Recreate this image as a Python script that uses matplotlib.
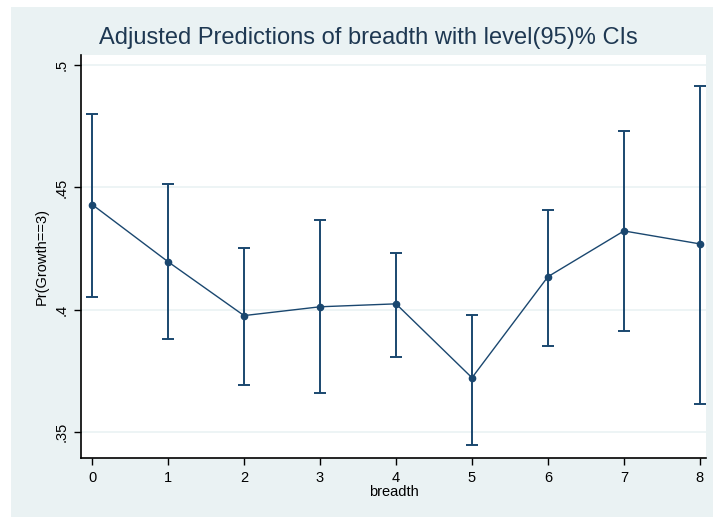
import matplotlib.pyplot as plt
from matplotlib.patches import Rectangle

plt.rcParams['font.family'] = ['Liberation Sans', 'DejaVu Sans']

breadth = [0, 1, 2, 3, 4, 5, 6, 7, 8]
pred = [0.443, 0.4196, 0.3976, 0.4012, 0.4024, 0.3722, 0.4135, 0.4322, 0.4269]
ci_low = [0.405, 0.388, 0.3694, 0.3661, 0.3808, 0.3449, 0.3853, 0.3914, 0.3616]
ci_high = [0.480, 0.4514, 0.4253, 0.4367, 0.4233, 0.398, 0.4408, 0.4731, 0.4914]

yticks = [0.35, 0.4, 0.45, 0.5]
ytick_labels = ['.35', '.4', '.45', '.5']

navy = '#1a476f'
bg = '#eaf2f3'

fig = plt.figure(figsize=(7.13, 5.17), dpi=100, facecolor='white')
fig.patches.append(Rectangle((11 / 713, 0), 1 - 11 / 713, 1 - 7 / 517,
                             transform=fig.transFigure, facecolor=bg,
                             edgecolor='none', zorder=-10))

ax = fig.add_axes([81 / 713, 1 - 458 / 517, (706 - 81) / 713, (458 - 55) / 517])
ax.set_facecolor('white')

err_lo = [p - l for p, l in zip(pred, ci_low)]
err_hi = [h - p for p, h in zip(pred, ci_high)]
ax.errorbar(breadth, pred, yerr=[err_lo, err_hi], fmt='none', ecolor=navy,
            elinewidth=1.4, capsize=4, capthick=1.4, zorder=3)
ax.plot(breadth, pred, color=navy, lw=1.0, marker='o', markersize=4.5, zorder=4)

ax.set_xlim(-0.146, 8.08)
ax.set_ylim(0.3394, 0.5041)
ax.set_xticks(breadth)
ax.set_yticks(yticks)
ax.set_yticklabels(ytick_labels, rotation=90, va='center')
ax.grid(axis='y', color=bg, lw=1.2)
ax.set_axisbelow(True)

for s in ['top', 'right']:
    ax.spines[s].set_visible(False)
for s in ['left', 'bottom']:
    ax.spines[s].set_linewidth(1.2)
ax.tick_params(direction='out', length=5, width=1, labelsize=10.5, pad=4)

ax.set_xlabel('breadth', fontsize=10.5, labelpad=0)
ax.set_ylabel('Pr(Growth==3)', fontsize=10.5, labelpad=4)

fig.text(368 / 713, 1 - 38 / 517, 'Adjusted Predictions of breadth with level(95)% CIs',
         ha='center', va='center', fontsize=17, color='#1e3852')

fig.savefig('out.png', dpi=100, facecolor='white')
